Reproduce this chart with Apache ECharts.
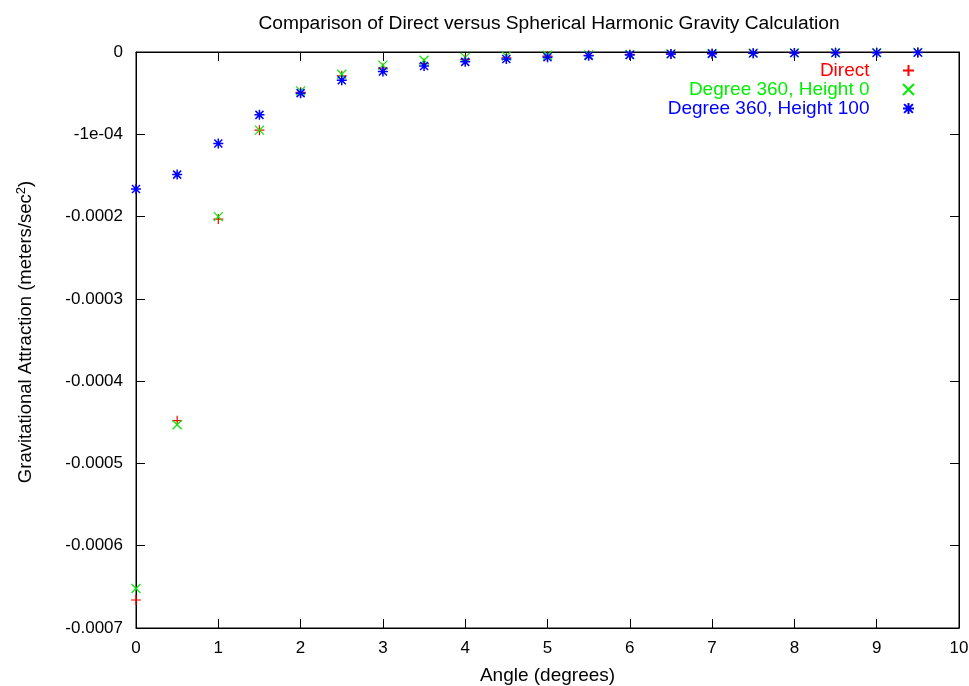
<!DOCTYPE html>
<html>
<head>
<meta charset="utf-8">
<script src="https://cdn.jsdelivr.net/npm/echarts@6/dist/echarts.min.js"></script>
<style>
html,body{margin:0;padding:0;background:#fff;}
#chart{width:969px;height:686px;}
</style>
</head>
<body>
<div id="chart"></div>
<script>
// Data (angle in degrees, attraction in meters/sec^2)
var angles = [0, 0.5, 1, 1.5, 2, 2.5, 3, 3.5, 4, 4.5, 5, 5.5, 6, 6.5, 7, 7.5, 8, 8.5, 9, 9.5];
var directVals = [-6.66e-4, -4.48e-4, -2.03e-4, -0.95e-4, -0.49e-4, -0.29e-4, -0.197e-4, -0.14e-4, -0.09e-4, -0.07e-4,
  -0.05e-4, -0.04e-4, -0.03e-4, -0.025e-4, -0.02e-4, -0.015e-4, -0.012e-4, -0.01e-4, -0.008e-4, -0.006e-4];
var deg360h0Vals = [-6.52e-4, -4.53e-4, -2.00e-4, -0.95e-4, -0.473e-4, -0.27e-4, -0.16e-4, -0.10e-4, -0.065e-4, -0.05e-4,
  -0.04e-4, -0.035e-4, -0.03e-4, -0.022e-4, -0.018e-4, -0.014e-4, -0.011e-4, -0.009e-4, -0.007e-4, -0.005e-4];
var deg360h100Vals = [-1.665e-4, -1.49e-4, -1.113e-4, -0.764e-4, -0.50e-4, -0.343e-4, -0.238e-4, -0.169e-4, -0.12e-4, -0.085e-4,
  -0.063e-4, -0.047e-4, -0.035e-4, -0.025e-4, -0.02e-4, -0.016e-4, -0.013e-4, -0.01e-4, -0.008e-4, -0.006e-4];
var seriesNames = ['Direct', 'Degree 360, Height 0', 'Degree 360, Height 100'];
var xTickLabels = ['0','1','2','3','4','5','6','7','8','9','10'];
var yTickLabels = ['-0.0007','-0.0006','-0.0005','-0.0004','-0.0003','-0.0002','-1e-04','0'];

function pairs(vals){ return angles.map(function(a,i){ return [a, vals[i]]; }); }

var FONT = '"Liberation Sans", Arial, Helvetica, sans-serif';
var plusPath = 'path://M5,0L5,10M0,5L10,5';
var crossPath = 'path://M0,0L10,10M10,0L0,10';
var starPath = 'path://M5,0L5,10M0,5L10,5M1,1L9,9M9,1L1,9';
var colors = ['#ff0000', '#00ee00', '#0000ff'];
var symbols = [plusPath, crossPath, starPath];
var sizes = [10, 9, 10];
var widths = [1.2, 1.2, 1.5];
var dataSets = [directVals, deg360h0Vals, deg360h100Vals];

function yFmt(v){
  var idx = Math.round(v / 1e-4) + 7;
  return yTickLabels[idx] !== undefined ? yTickLabels[idx] : '';
}

var chart = echarts.init(document.getElementById('chart'), null, {renderer: 'canvas'});

var series = seriesNames.map(function(n, i){
  return {
    name: n,
    type: 'scatter',
    data: pairs(dataSets[i]),
    symbol: symbols[i],
    symbolSize: sizes[i],
    itemStyle: {color: 'transparent', borderColor: colors[i], borderWidth: widths[i], opacity: 1},
    emphasis: {disabled: true},
    z: 3 + i
  };
});

var legends = seriesNames.map(function(n, i){
  return {
    data: [{name: n, textStyle: {color: colors[i]}}],
    right: 54,
    top: 61 + i * 19,
    align: 'right',
    itemWidth: 68,
    itemHeight: 11,
    itemGap: 0,
    selectedMode: false,
    textStyle: {fontFamily: FONT, fontSize: 19, color: colors[i]},
    padding: 0
  };
});

chart.setOption({
  backgroundColor: '#ffffff',
  animation: false,
  textStyle: {fontFamily: FONT},
  title: {
    text: 'Comparison of Direct versus Spherical Harmonic Gravity Calculation',
    left: 544, top: 9, textAlign: 'center',
    textStyle: {fontFamily: FONT, fontSize: 19.2, fontWeight: 'normal', color: '#000'}
  },
  legend: legends,
  grid: {left: 136, right: 10, top: 52, bottom: 58, show: true, borderColor: '#000', borderWidth: 1,
    backgroundColor: 'transparent', containLabel: false, outerBoundsMode: 'none'},
  xAxis: [{
    type: 'value', min: 0, max: 10, interval: 1, position: 'bottom',
    name: 'Angle (degrees)', nameLocation: 'middle', nameGap: 38,
    nameTextStyle: {fontFamily: FONT, fontSize: 19, color: '#000'},
    axisLine: {show: true, onZero: false, lineStyle: {color: '#000', width: 1}},
    axisTick: {show: true, inside: true, length: 9, lineStyle: {color: '#000'}},
    axisLabel: {fontFamily: FONT, fontSize: 17, color: '#000', margin: 12,
      formatter: function(v){ return xTickLabels[Math.round(v)]; }},
    splitLine: {show: false}
  }, {
    type: 'value', min: 0, max: 10, interval: 1, position: 'top',
    axisLine: {show: true, onZero: false, lineStyle: {color: '#000', width: 1}},
    axisTick: {show: true, inside: true, length: 9, lineStyle: {color: '#000'}},
    axisLabel: {show: false}, splitLine: {show: false}
  }],
  yAxis: [{
    type: 'value', min: -0.0007, max: 0, interval: 0.0001, position: 'left',
    name: 'Gravitational Attraction (meters/sec{sup|2})', nameLocation: 'middle', nameGap: 99,
    nameTextStyle: {fontFamily: FONT, fontSize: 18.5, color: '#000', padding: [0, 0, 0, 16],
      rich: {sup: {fontFamily: FONT, fontSize: 13, color: '#000', verticalAlign: 'top', padding: [0,0,9,0]}}},
    axisLine: {show: true, onZero: false, lineStyle: {color: '#000', width: 1}},
    axisTick: {show: true, inside: true, length: 9, lineStyle: {color: '#000'}},
    axisLabel: {fontFamily: FONT, fontSize: 17, color: '#000', margin: 13, formatter: yFmt},
    splitLine: {show: false}
  }, {
    type: 'value', min: -0.0007, max: 0, interval: 0.0001, position: 'right',
    axisLine: {show: true, onZero: false, lineStyle: {color: '#000', width: 1}},
    axisTick: {show: true, inside: true, length: 9, lineStyle: {color: '#000'}},
    axisLabel: {show: false}, splitLine: {show: false}
  }],
  series: series
});
</script>
</body>
</html>
